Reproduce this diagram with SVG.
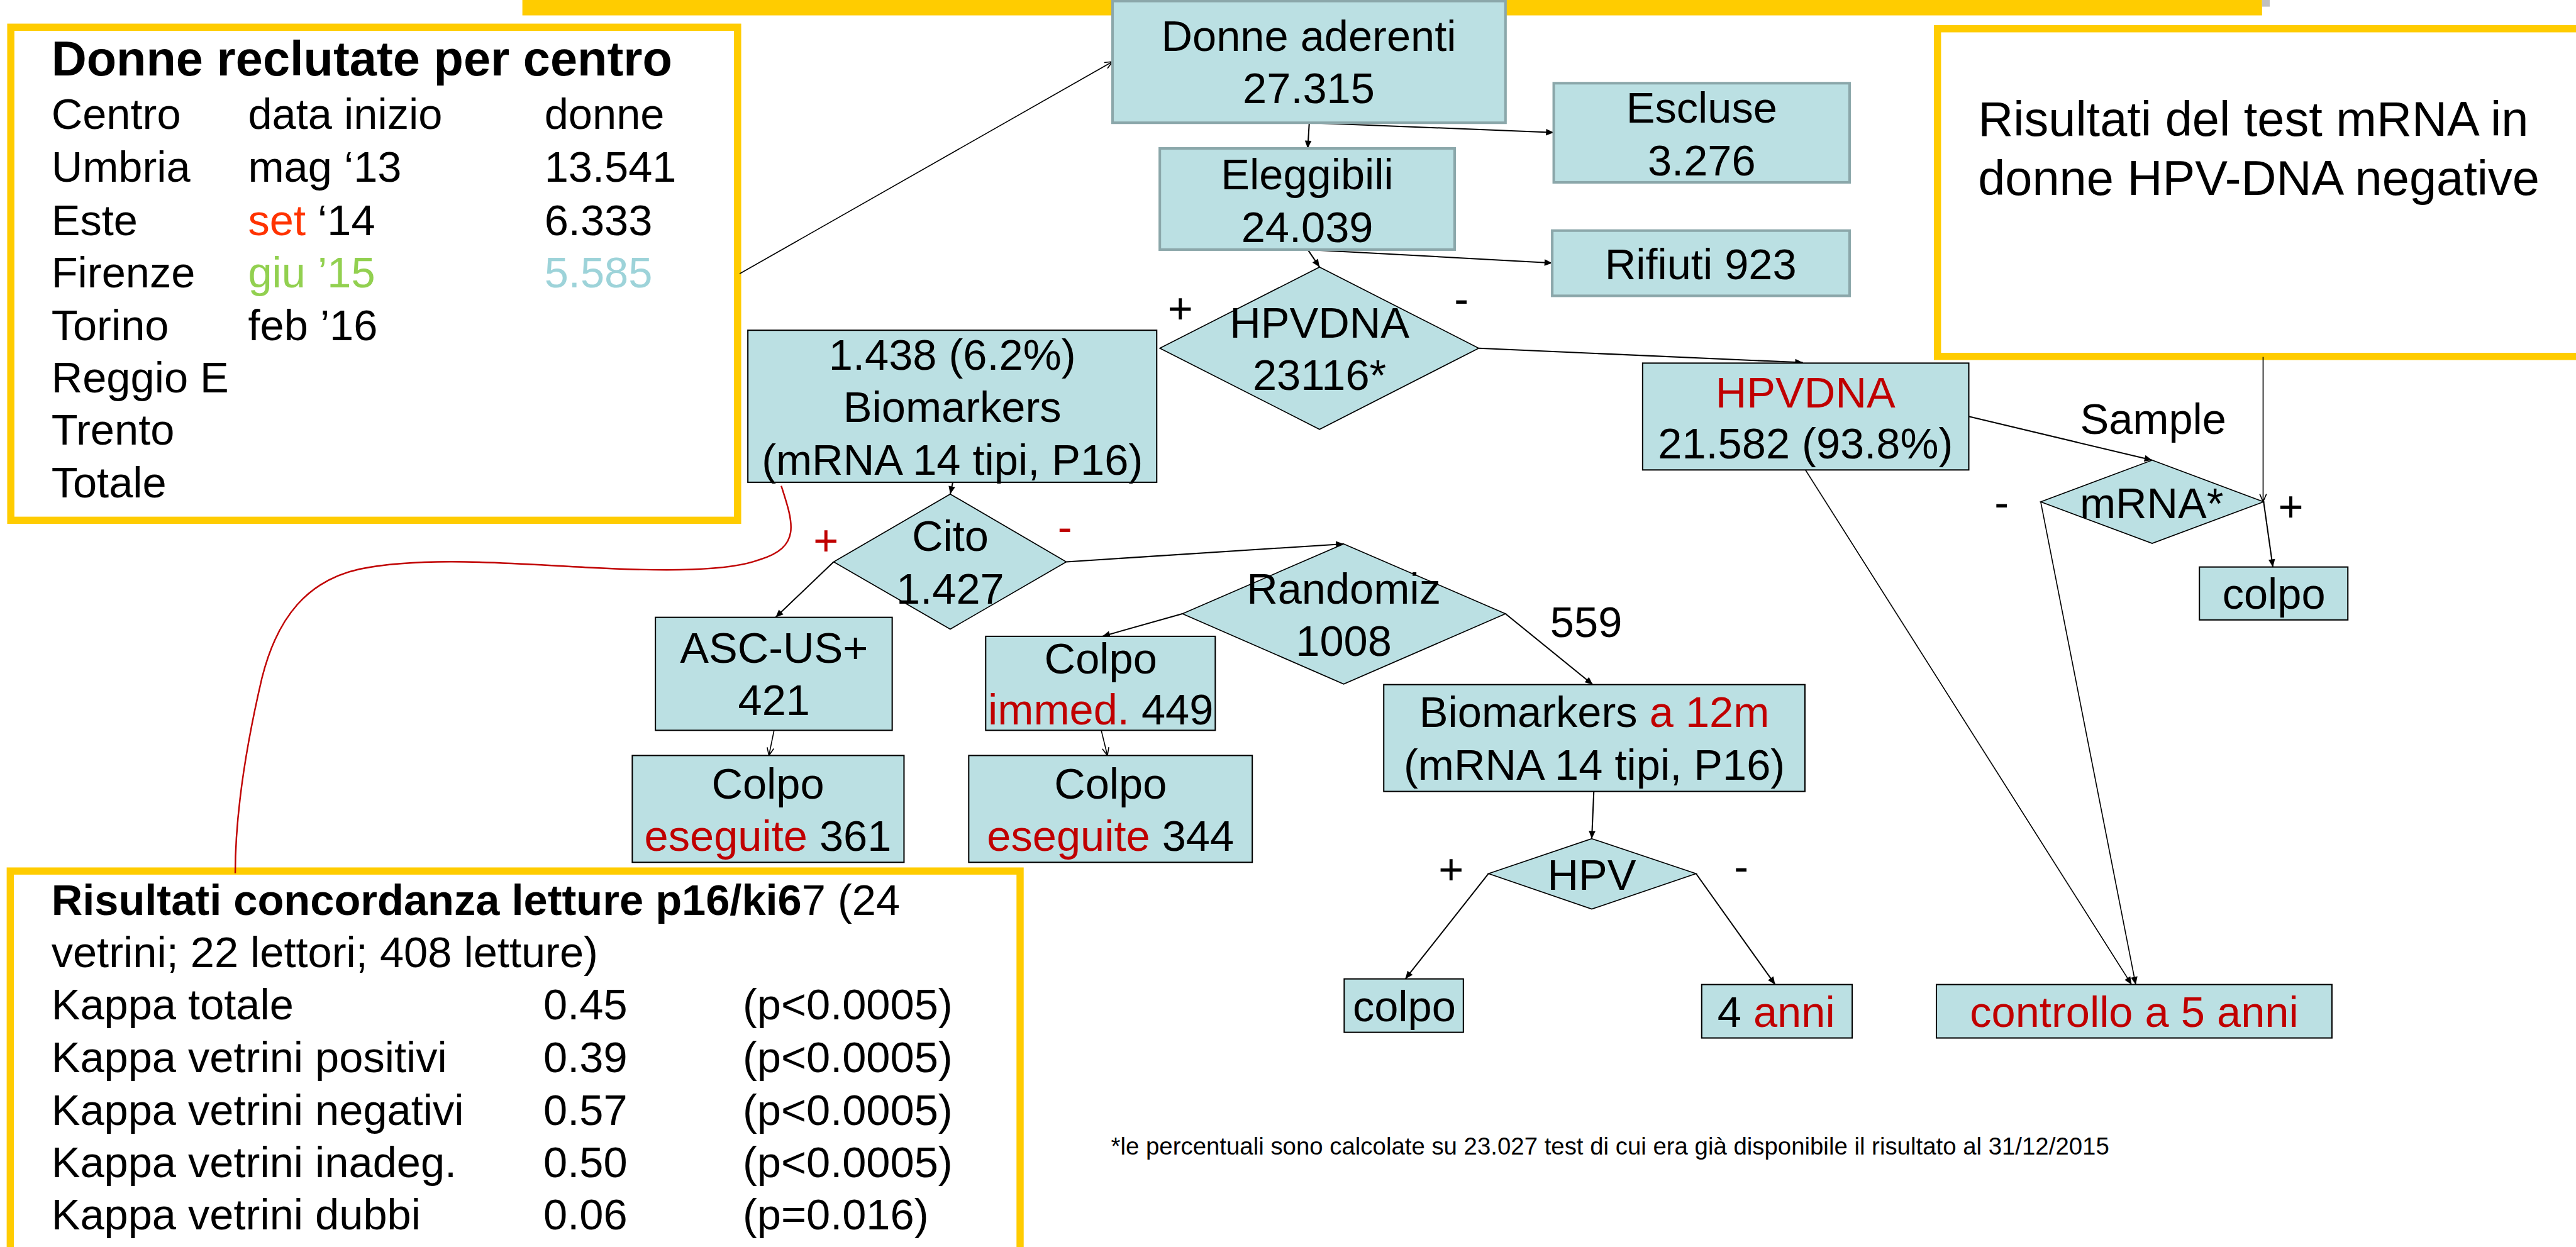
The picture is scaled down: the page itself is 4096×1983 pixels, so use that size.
<svg xmlns="http://www.w3.org/2000/svg" width="4096" height="1983" viewBox="0 0 4096 1983">
<style>
text{font-family:"Liberation Sans",Arial,sans-serif;fill:#000}
.t84{font-size:84px}
.t95{font-size:95px}
.t47{font-size:47px}
.b{font-weight:bold}
.mid{text-anchor:middle}
.red{fill:#C00000}
.boxg{fill:#BBE0E3;stroke:#8BA7AA;stroke-width:5}
.boxk{fill:#BBE0E3;stroke:#000;stroke-width:2.5}
.dia{fill:#BBE0E3;stroke:#000;stroke-width:2}
.panel{fill:#FFFFFF;stroke:#FFCC00;stroke-width:14}
.ln{fill:none;stroke:#000;stroke-width:2.5;marker-end:url(#af)}
.lo{fill:none;stroke:#000;stroke-width:2;marker-end:url(#ao)}
</style>
<defs>
<marker id="af" markerUnits="userSpaceOnUse" markerWidth="16" markerHeight="14" refX="15" refY="6.5" orient="auto" overflow="visible">
<path d="M0,0 L15,6.5 L0,13 z" fill="#000"/>
</marker>
<marker id="ao" markerUnits="userSpaceOnUse" markerWidth="16" markerHeight="14" refX="15" refY="6.5" orient="auto" overflow="visible">
<path d="M0,0 L15,6.5 L0,13" fill="none" stroke="#000" stroke-width="2"/>
</marker>
</defs>
<rect width="4096" height="1983" fill="#FFFFFF"/>
<g transform="scale(0.81672)">
<g id="titlebar">
<rect x="1017" y="-10" width="3387" height="40" fill="#FFCC00"/>
<rect x="4404" y="0" width="15" height="13" fill="#C0C0C0"/>
</g>
<g id="panel-centri">
<rect class="panel" x="21" y="53" width="1415" height="960"/>
<text class="t95 b" x="100" y="147">Donne reclutate per centro</text>
<g class="t84">
<text x="100" y="251">Centro</text><text x="483" y="251">data inizio</text><text x="1060" y="251">donne</text>
<text x="100" y="354">Umbria</text><text x="483" y="354">mag ‘13</text><text x="1060" y="354">13.541</text>
<text x="100" y="458">Este</text><text x="483" y="458"><tspan fill="#FF3300">set</tspan> ‘14</text><text x="1060" y="458">6.333</text>
<text x="100" y="559">Firenze</text><text x="483" y="559" fill="#92D050" style="fill:#92D050">giu ’15</text><text x="1060" y="559" style="fill:#9DD3D9">5.585</text>
<text x="100" y="662">Torino</text><text x="483" y="662">feb ’16</text>
<text x="100" y="764">Reggio E</text>
<text x="100" y="866">Trento</text>
<text x="100" y="968">Totale</text>
</g>
</g>
<g id="panel-mrna">
<rect class="panel" x="3772" y="56" width="1300" height="638"/>
<text class="t95" x="3851" y="265">Risultati del test mRNA in</text>
<text class="t95" x="3851" y="379">donne HPV-DNA negative</text>
</g>
<g id="panel-kappa">
<rect class="panel" x="20" y="1696" width="1966" height="800"/>
<g class="t84">
<text x="100" y="1781"><tspan class="b">Risultati concordanza letture p16/ki6</tspan>7 (24</text>
<text x="100" y="1883">vetrini; 22 lettori; 408 letture)</text>
<text x="100" y="1985">Kappa totale</text><text x="1058" y="1985">0.45</text><text x="1446" y="1985">(p&lt;0.0005)</text>
<text x="100" y="2088">Kappa vetrini positivi</text><text x="1058" y="2088">0.39</text><text x="1446" y="2088">(p&lt;0.0005)</text>
<text x="100" y="2190">Kappa vetrini negativi</text><text x="1058" y="2190">0.57</text><text x="1446" y="2190">(p&lt;0.0005)</text>
<text x="100" y="2292">Kappa vetrini inadeg.</text><text x="1058" y="2292">0.50</text><text x="1446" y="2292">(p&lt;0.0005)</text>
<text x="100" y="2394">Kappa vetrini dubbi</text><text x="1058" y="2394">0.06</text><text x="1446" y="2394">(p=0.016)</text>
</g>
</g>
<g id="connectors">
<line class="lo" x1="1440" y1="533" x2="2166" y2="120"/>
<line class="ln" x1="2549" y1="239" x2="2546" y2="289"/>
<line class="ln" x1="2549" y1="239" x2="3025" y2="258"/>
<line class="ln" x1="2546" y1="486" x2="2569" y2="520"/>
<line class="ln" x1="2546" y1="486" x2="3022" y2="512"/>
<line class="ln" x1="2879" y1="678" x2="3510" y2="706"/>
<line class="ln" x1="3833" y1="811" x2="4190" y2="896"/>
<line class="lo" x1="4406" y1="695" x2="4406" y2="977"/>
<line class="ln" x1="4407" y1="977" x2="4425" y2="1104"/>
<line class="ln" style="stroke-width:2" x1="3515" y1="915" x2="4150" y2="1917"/>
<line class="ln" style="stroke-width:2" x1="3973" y1="977" x2="4158" y2="1917"/>
<line class="ln" x1="1855" y1="939" x2="1850" y2="962"/>
<line class="ln" x1="1623" y1="1094" x2="1510" y2="1202"/>
<line class="ln" x1="2076" y1="1094" x2="2616" y2="1059"/>
<line class="ln" x1="2302" y1="1195" x2="2146" y2="1239"/>
<line class="ln" x1="2931" y1="1195" x2="3101" y2="1333"/>
<line class="lo" x1="1507" y1="1422" x2="1497" y2="1471"/>
<line class="lo" x1="2144" y1="1422" x2="2156" y2="1471"/>
<line class="ln" x1="3103" y1="1541" x2="3099" y2="1633"/>
<line class="ln" x1="2898" y1="1701" x2="2736" y2="1906"/>
<line class="ln" x1="3302" y1="1701" x2="3456" y2="1917"/>
<path d="M1521,946 C1545,1020 1560,1065 1478,1090 C1420,1112 1300,1113 1146,1105 C1000,1098 830,1082 700,1108 C600,1130 540,1200 510,1320 C475,1470 458,1600 458,1700" fill="none" stroke="#C00000" stroke-width="3"/>
</g>
<g id="n-aderenti">
<rect class="boxg" x="2166" y="2" width="765" height="237"/>
<text class="t84 mid" x="2548" y="99">Donne aderenti</text>
<text class="t84 mid" x="2548" y="201">27.315</text>
</g>
<g id="n-escluse">
<rect class="boxg" x="3025" y="162" width="576" height="193"/>
<text class="t84 mid" x="3313" y="239">Escluse</text>
<text class="t84 mid" x="3313" y="341">3.276</text>
</g>
<g id="n-eleggibili">
<rect class="boxg" x="2258" y="289" width="574" height="197"/>
<text class="t84 mid" x="2545" y="369">Eleggibili</text>
<text class="t84 mid" x="2545" y="471">24.039</text>
</g>
<g id="n-rifiuti">
<rect class="boxg" x="3022" y="449" width="579" height="127"/>
<text class="t84 mid" x="3311" y="544">Rifiuti 923</text>
</g>
<g id="n-hpvdna">
<polygon class="dia" points="2569,520 2879,678 2569,836 2258,678"/>
<text class="t84 mid" x="2569" y="657">HPVDNA</text>
<text class="t84 mid" x="2569" y="759">23116*</text>
<text class="t84 mid" x="2298" y="629">+</text>
<text class="t84 mid" x="2845" y="611">-</text>
</g>
<g id="n-biomarkers">
<rect class="boxk" x="1456" y="643" width="796" height="296"/>
<text class="t84 mid" x="1854" y="720">1.438 (6.2%)</text>
<text class="t84 mid" x="1854" y="822">Biomarkers</text>
<text class="t84 mid" x="1854" y="924">(mRNA 14 tipi, P16)</text>
</g>
<g id="n-hpvneg">
<rect class="boxk" x="3198" y="707" width="635" height="208"/>
<text class="t84 mid red" x="3515" y="793">HPVDNA</text>
<text class="t84 mid" x="3515" y="893">21.582 (93.8%)</text>
</g>
<g id="n-mrna">
<polygon class="dia" points="4190,896 4407,977 4190,1058 3973,977"/>
<text class="t84 mid" x="4189" y="1009">mRNA*</text>
<text class="t84 mid" x="4192" y="845">Sample</text>
<text class="t84 mid" x="3897" y="1008">-</text>
<text class="t84 mid" x="4460" y="1015">+</text>
</g>
<g id="n-colpo-r">
<rect class="boxk" x="4282" y="1104" width="289" height="103"/>
<text class="t84 mid" x="4427" y="1185">colpo</text>
</g>
<g id="n-cito">
<polygon class="dia" points="1850,962 2076,1094 1850,1225 1623,1094"/>
<text class="t84 mid" x="1850" y="1073">Cito</text>
<text class="t84 mid" x="1850" y="1175">1.427</text>
<text class="t84 mid red" x="1608" y="1081">+</text>
<text class="t84 mid red" x="2073" y="1056">-</text>
</g>
<g id="n-randomiz">
<polygon class="dia" points="2616,1059 2931,1195 2616,1332 2302,1195"/>
<text class="t84 mid" x="2616" y="1175">Randomiz</text>
<text class="t84 mid" x="2616" y="1277">1008</text>
<text class="t84" x="3018" y="1240">559</text>
</g>
<g id="n-ascus">
<rect class="boxk" x="1276" y="1202" width="461" height="220"/>
<text class="t84 mid" x="1507" y="1290">ASC-US+</text>
<text class="t84 mid" x="1507" y="1392">421</text>
</g>
<g id="n-colpo-immed">
<rect class="boxk" x="1919" y="1239" width="447" height="183"/>
<text class="t84 mid" x="2143" y="1311">Colpo</text>
<text class="t84 mid" x="2143" y="1410"><tspan class="red">immed.</tspan> 449</text>
</g>
<g id="n-colpo361">
<rect class="boxk" x="1231" y="1471" width="529" height="208"/>
<text class="t84 mid" x="1495" y="1555">Colpo</text>
<text class="t84 mid" x="1495" y="1657"><tspan class="red">eseguite</tspan> 361</text>
</g>
<g id="n-colpo344">
<rect class="boxk" x="1886" y="1471" width="552" height="208"/>
<text class="t84 mid" x="2162" y="1555">Colpo</text>
<text class="t84 mid" x="2162" y="1657"><tspan class="red">eseguite</tspan> 344</text>
</g>
<g id="n-bio12">
<rect class="boxk" x="2694" y="1333" width="820" height="208"/>
<text class="t84 mid" x="3104" y="1416">Biomarkers <tspan class="red">a 12m</tspan></text>
<text class="t84 mid" x="3104" y="1518">(mRNA 14 tipi, P16)</text>
</g>
<g id="n-hpv">
<polygon class="dia" points="3099,1633 3302,1701 3099,1770 2898,1701"/>
<text class="t84 mid" x="3099" y="1732">HPV</text>
<text class="t84 mid" x="2825" y="1722">+</text>
<text class="t84 mid" x="3390" y="1717">-</text>
</g>
<g id="n-colpo-b">
<rect class="boxk" x="2617" y="1906" width="232" height="104"/>
<text class="t84 mid" x="2734" y="1989">colpo</text>
</g>
<g id="n-4anni">
<rect class="boxk" x="3313" y="1917" width="293" height="104"/>
<text class="t84 mid" x="3458" y="2000">4 <tspan class="red">anni</tspan></text>
</g>
<g id="n-controllo">
<rect class="boxk" x="3770" y="1917" width="770" height="104"/>
<text class="t84 mid red" x="4155" y="2000">controllo a 5 anni</text>
</g>
<text class="t47" x="2163" y="2248">*le percentuali sono calcolate su 23.027 test di cui era già disponibile il risultato al 31/12/2015</text>
</g>
</svg>
